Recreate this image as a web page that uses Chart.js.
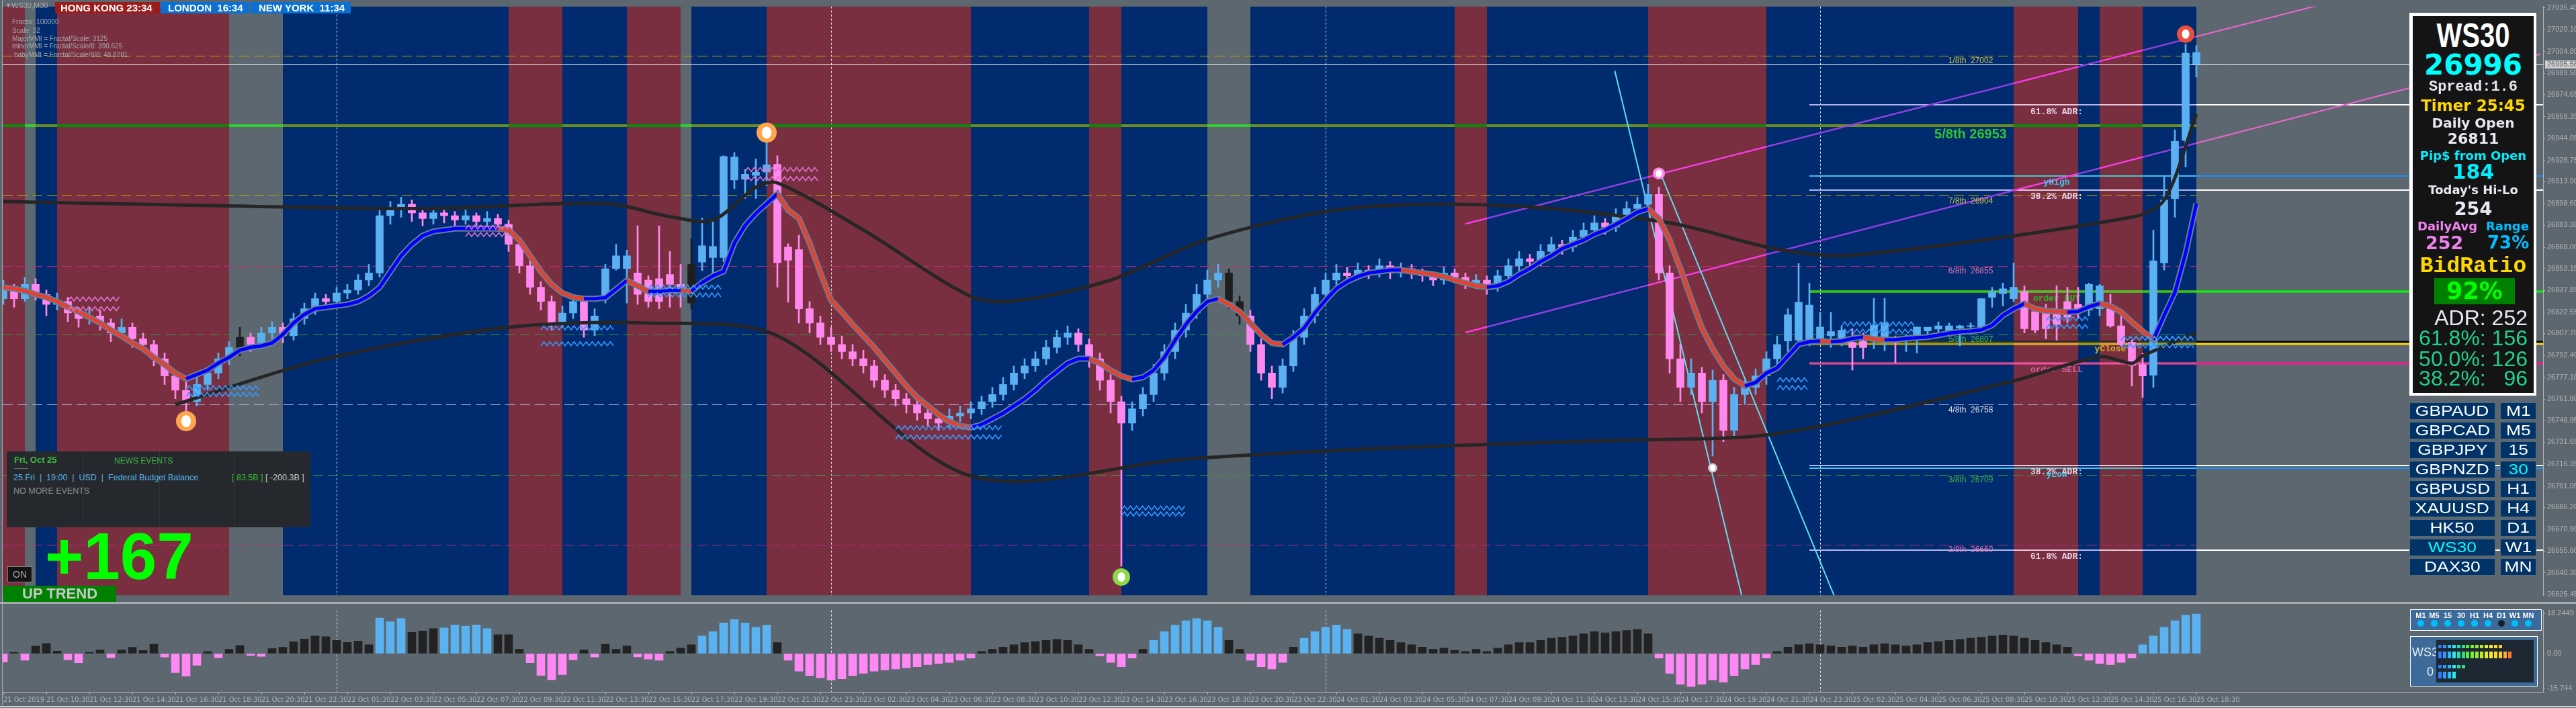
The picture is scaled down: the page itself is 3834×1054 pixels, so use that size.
<!DOCTYPE html>
<html>
<head>
<meta charset="utf-8">
<title>WS30,M30</title>
<script src="https://cdn.jsdelivr.net/npm/chart.js@4.4.1/dist/chart.umd.min.js"></script>
<style>
*{box-sizing:border-box}
html,body{margin:0;padding:0;width:3834px;height:1054px;overflow:hidden;background:#5c6770;font-family:"Liberation Sans",Arial,sans-serif}
canvas{position:absolute;left:0}
#main{top:0}
#sub{top:899px}
.t{position:absolute;white-space:pre;line-height:1}
.box{position:absolute}
.c{text-align:center}
.dj{font-family:"DejaVu Sans",sans-serif;font-weight:bold}
.mono{font-family:"Liberation Mono","DejaVu Sans Mono",monospace;font-weight:bold}
</style>
</head>
<body>
<canvas id="main" width="3834" height="896"></canvas>
<div class="box" style="left:0;top:896px;width:3834px;height:3px;background:#a4aab0"></div>
<canvas id="sub" width="3834" height="155"></canvas>
<div class="box" style="left:0;top:1051px;width:3834px;height:2px;background:#d0d4d8"></div>
<div class="box" style="left:3px;top:0;width:1px;height:1050px;background:#a4aab0"></div>

<!-- title and clocks -->
<div class="t" style="left:8px;top:4px;font-size:9px;color:#a8a8a8">&#9660;</div>
<div class="t" style="left:17px;top:3px;font-size:11px;color:#a8acb0">WS30,M30</div>
<div class="box" style="left:82px;top:3px;width:156px;height:17px;background:#9c1c1c"></div>
<div class="t" style="left:90px;top:4px;font-weight:bold;font-size:15px;color:#fff">HONG KONG 23:34</div>
<div class="box" style="left:239px;top:3px;width:132px;height:17px;background:#0b70d4"></div>
<div class="t" style="left:250px;top:4px;font-weight:bold;font-size:15px;color:#fff">LONDON  16:34</div>
<div class="box" style="left:373px;top:3px;width:149px;height:17px;background:#0b70d4"></div>
<div class="t" style="left:385px;top:4px;font-weight:bold;font-size:15px;color:#fff">NEW YORK  11:34</div>
<div class="t" style="left:18px;top:28px;font-size:10px;color:#a4a8ac">Fractal: 100000</div>
<div class="t" style="left:18px;top:41px;font-size:10px;color:#a4a8ac">Scale: 32</div>
<div class="t" style="left:18px;top:53px;font-size:10px;color:#a4a8ac">MajorMMI = Fractal/Scale: 3125</div>
<div class="t" style="left:18px;top:64px;font-size:10px;color:#a4a8ac">minorMMI = Fractal/Scale/8: 390.625</div>
<div class="t" style="left:21px;top:77px;font-size:10px;color:#a4a8ac">babyMMI = Fractal/Scale/8/8: 48.8281</div>

<!-- info panel -->
<div class="box" style="left:3586px;top:19px;width:189px;height:570px;background:#ffffff"></div>
<div class="box" style="left:3591px;top:24px;width:180px;height:561px;background:#141414"></div>
<div class="t c" style="left:3591px;width:180px;top:28px;font-weight:bold;font-size:50px;color:#fff"><span style="display:inline-block;transform:scaleX(0.8)">WS30</span></div>
<div class="t c dj" style="left:3591px;width:180px;top:76px;font-size:42px;color:#00ffff">26996</div>
<div class="t c mono" style="left:3591px;width:180px;top:119px;font-size:22px;color:#e8e8f2">Spread:1.6</div>
<div class="t c dj" style="left:3591px;width:180px;top:146px;font-size:23px;color:#ffd700">Timer 25:45</div>
<div class="t c dj" style="left:3591px;width:180px;top:173px;font-size:20px;color:#e8e8f2">Daily Open</div>
<div class="t c dj" style="left:3591px;width:180px;top:196px;font-size:22px;color:#e8e8f2">26811</div>
<div class="t c dj" style="left:3591px;width:180px;top:223px;font-size:18px;color:#00eeff">Pip$ from Open</div>
<div class="t c dj" style="left:3591px;width:180px;top:241px;font-size:30px;color:#00eeff">184</div>
<div class="t c dj" style="left:3591px;width:180px;top:274px;font-size:18px;color:#e8e8f2">Today's Hi-Lo</div>
<div class="t c dj" style="left:3591px;width:180px;top:297px;font-size:27px;color:#e8e8f2">254</div>
<div class="t dj" style="left:3598px;top:328px;font-size:18px;color:#ee82ee">DailyAvg</div>
<div class="t dj" style="left:3700px;top:328px;font-size:18px;color:#00bfff">Range</div>
<div class="t dj" style="left:3610px;top:348px;font-size:27px;color:#ee82ee">252</div>
<div class="t dj" style="left:3702px;top:348px;font-size:26px;color:#00bfff">73%</div>
<div class="t c mono" style="left:3591px;width:180px;top:380px;font-size:33px;color:#ffd700">BidRatio</div>
<div class="box" style="left:3623px;top:414px;width:120px;height:39px;background:#008000"></div>
<div class="t c dj" style="left:3623px;width:120px;top:416px;font-size:35px;color:#00ff00">92%</div>
<div class="t" style="left:3591px;width:171px;text-align:right;top:457px;font-size:32px;color:#e8e8f2">ADR: 252</div>
<div class="t" style="left:3591px;width:171px;text-align:right;top:487px;font-size:32px;color:#22d08c">61.8%: 156</div>
<div class="t" style="left:3591px;width:171px;text-align:right;top:518px;font-size:32px;color:#22d08c">50.0%: 126</div>
<div class="t" style="left:3591px;width:171px;text-align:right;top:547px;font-size:32px;color:#22d08c">38.2%:   96</div>
<div id="btns"></div>

<!-- news / trend -->
<div class="box" style="left:10px;top:672px;width:452px;height:113px;background:#25292e"></div>
<div class="box" style="left:123px;top:672px;width:1px;height:113px;background:#33343a"></div>
<div class="box" style="left:237px;top:672px;width:1px;height:113px;background:#33343a"></div>
<div class="box" style="left:349px;top:672px;width:1px;height:113px;background:#33343a"></div>
<div class="t" style="left:21px;top:678px;font-weight:bold;font-size:13px;color:#3cb83c">Fri, Oct 25</div>
<div class="t" style="left:21px;top:693px;font-size:9px;color:#a0a0a0">-------</div>
<div class="t" style="left:170px;top:680px;font-size:12px;color:#3cb043">NEWS EVENTS</div>
<div class="t" style="left:20px;top:705px;font-size:12.5px;color:#5ab4e6">25.Fri  |  19:00  |  USD  |  Federal Budget Balance</div>
<div class="t" style="left:345px;top:705px;font-size:12.5px;color:#33b833">[ 83.5B ]</div>
<div class="t" style="left:395px;top:705px;font-size:12.5px;color:#c8c8c8">[ -200.3B ]</div>
<div class="t" style="left:20px;top:725px;font-size:12.5px;color:#8c8c8c">NO MORE EVENTS</div>
<div class="t" style="left:67px;top:779px;font-weight:bold;font-size:98px;color:#00ff00">+167</div>
<div class="box" style="left:11px;top:843px;width:37px;height:24px;background:#141414;border:1px solid #808080"></div>
<div class="t c" style="left:11px;width:37px;top:848px;font-size:14px;color:#a8a8a8">ON</div>
<div class="box" style="left:5px;top:872px;width:168px;height:24px;background:#008000"></div>
<div class="t" style="left:33px;top:873px;font-weight:bold;font-size:22px;color:#c8c8c8">UP TREND</div>

<!-- sub window panels -->
<div class="box" style="left:3587px;top:907px;width:196px;height:32px;background:#3d6b99;border:1px solid #ffffff"></div>
<div id="tf"></div>
<div class="box" style="left:3587px;top:947px;width:190px;height:75px;background:#3d6b99;border:1px solid #ffffff"></div>
<div class="t" style="left:3590px;top:962px;font-size:18px;color:#e8eef4">WS3</div>
<div class="t" style="left:3612px;top:991px;font-size:18px;color:#e8eef4">0</div>
<div class="box" style="left:3626px;top:953px;width:145px;height:63px;background:#1e2833"></div>
<div id="meter"></div>

<script>
// ================= DATA =================
const tickLabels = ['21 Oct 2019','21 Oct 10:30','21 Oct 12:30','21 Oct 14:30','21 Oct 16:30','21 Oct 18:30','21 Oct 20:30','21 Oct 22:30',
 '22 Oct 01:30','22 Oct 03:30','22 Oct 05:30','22 Oct 07:30','22 Oct 09:30','22 Oct 11:30','22 Oct 13:30','22 Oct 15:30','22 Oct 17:30','22 Oct 19:30','22 Oct 21:30','22 Oct 23:30',
 '23 Oct 02:30','23 Oct 04:30','23 Oct 06:30','23 Oct 08:30','23 Oct 10:30','23 Oct 12:30','23 Oct 14:30','23 Oct 16:30','23 Oct 18:30','23 Oct 20:30','23 Oct 22:30',
 '24 Oct 01:30','24 Oct 03:30','24 Oct 05:30','24 Oct 07:30','24 Oct 09:30','24 Oct 11:30','24 Oct 13:30','24 Oct 15:30','24 Oct 17:30','24 Oct 19:30','24 Oct 21:30','24 Oct 23:30',
 '25 Oct 02:30','25 Oct 04:30','25 Oct 06:30','25 Oct 08:30','25 Oct 10:30','25 Oct 12:30','25 Oct 14:30','25 Oct 16:30','25 Oct 18:30'];
const priceTicks = [27035.40,27020.10,27004.80,26989.50,26974.65,26959.35,26944.05,26928.75,26913.90,26898.60,26883.30,26868.00,26853.15,26837.85,
 26822.55,26807.70,26792.40,26777.10,26761.80,26746.95,26731.65,26716.35,26701.05,26686.20,26670.90,26655.60,26640.30,26625.45];
const subTicks = [18.2449, 0, -15.744];
const subTickLabels = ['18.2449','0.00','-15.744'];
const currentPrice = 26995.56;

// M30 candles, bar 0 = 21 Oct 08:30 ... bar 204 = 25 Oct 18:30
const openP = [26832,26838,26832,26842,26835,26828,26830,26822,26818,26820,
 26815,26808,26812,26804,26800,26790,26778,26768,26760,26772,
 26780,26790,26798,26805,26800,26808,26812,26806,26818,26825,
 26832,26830,26836,26838,26845,26850,26890,26895,26898,26892,
 26888,26892,26890,26887,26890,26886,26888,26884,26870,26855,
 26840,26830,26815,26822,26830,26810,
 26832,26853,26853,26850,26845,26846,26849,26842,26829,26857.6,26860.8,26860.8,26915,26915.5,26918.2,26920.5,26926,26868.1,26866.3,
 26825,26815,26805,26800,26795, 26790,26785,26775,26768,26762,26758,26752,26748,26745,26750,
 26752,26755,26760,26765,26772,26780,26785,26790,26798,26805, 26808,26800,26790,26775,26760,26745,26755,26765,26780,26795,
 26810,26822,26835,26845,26850,26830,26820,26800,26780,26770, 26785,26805,26820,26835,26845,26850,26848,26852,26850,26855,
 26850,26853,26850,26848,26845,26850,26847,26843,26845,26840, 26848,26855,26860,26858,26865,26870,26868,26875,26880,26885,
 26882,26890,26895,26898,26905,26850,26790,26770,26780,26760, 26775,26740,26765,26770,26778,26790,
 26802.4,26803,26803,26802.9,26806,26801.5,26801.5,26802.4,26803.7,26802,26804.7,26802.4,26806.6,26809.5,26810.7,26809.5,26811.5,26812.5,26812,
 26833,26835.5,26832,26837,26823,26822,26822,26830,26828,26824,26825,26825,26813,26801.5,26786,26778.5,26857,26902,26942.6,27004];
const highP = [26845,26842,26847,26846,26838,26836,26833,26826,26826,26824,
 26818,26818,26815,26808,26803,26794,26782,26775,26777,26784,
 26794,26802,26812,26808,26812,26816,26815,26822,26829,26836,
 26835,26840,26842,26849,26856,26894,26900,26903,26901,26895,
 26896,26895,26893,26894,26892,26893,26891,26887,26874,26859,
 26844,26834,26827,26835,26833,26825,
 26856,26870,26866,26883,26848,26883,26865,26856,26874,26888.4,26886.5,26932,26934.3,26922.3,26929.7,26947.6,26932,26870.4,26876.4,
 26830,26820,26812,26806,26800, 26796,26789,26779,26772,26766,26762,26756,26752,26755,26757,
 26760,26764,26770,26777,26785,26790,26795,26803,26810,26813, 26811,26804,26794,26779,26764,26760,26770,26786,26800,26815,
 26828,26842,26852,26856,26853,26834,26824,26804,26785,26790, 26810,26825,26840,26850,26856,26854,26857,26855,26860,26858,
 26857,26856,26853,26851,26854,26853,26850,26849,26848,26852, 26860,26865,26863,26870,26875,26873,26880,26885,26890,26888,
 26895,26900,26903,26912,26910,26855,26800,26790,26784,26782, 26779,26770,26775,26783,26795,26806,
 26825,26856.6,26843,26822.5,26822.5,26813,26811,26808,26832.3,26832.3,26806,26807,26812.2,26812,26815.8,26815,26813.5,26815,26832,
 26840,26843,26857,26841,26826,26828,26841,26840,26840,26843,26842,26835,26822,26803,26794,26880,26917,26950,27010,27009];
const lowP = [26828,26826,26830,26831,26820,26824,26816,26812,26814,26810,
 26802,26805,26798,26795,26785,26772,26762,26753,26757,26768,
 26776,26786,26792,26795,26797,26803,26801,26803,26814,26821,
 26825,26827,26832,26835,26841,26847,26884,26889,26886,26883,
 26884,26885,26882,26884,26881,26883,26879,26865,26850,26835,
 26824,26810,26812,26818,26805,26806,
 26829,26852,26829,26828,26826,26825,26826,26826,26825,26851.6,26848.8,26858,26909,26902.1,26902.1,26910.9,26840.1,26829.5,26815,
 26808,26800,26795,26790,26785, 26780,26770,26763,26757,26752,26747,26743,26740,26742,26746,
 26748,26751,26756,26761,26768,26776,26781,26786,26794,26800, 26795,26784,26768,26752,26645,26740,26750,26760,26775,26790,
 26805,26818,26830,26840,26825,26814,26795,26775,26762,26766, 26781,26800,26815,26830,26840,26843,26845,26846,26847,26846,
 26847,26846,26844,26841,26842,26843,26839,26840,26835,26837, 26845,26851,26853,26855,26861,26863,26865,26871,26876,26877,
 26879,26886,26891,26894,26845,26780,26760,26765,26752,26722, 26732,26736,26758,26765,26772,26785,
 26795,26799,26799,26801.5,26798,26799,26782,26790,26797,26795.6,26787,26795,26794,26806.7,26807,26806,26799,26811,26808,
 26826,26827,26830,26808,26808,26804,26803,26815,26818,26820,26820,26812,26799,26771,26763,26770,26852,26889,26924,26987];
const closeP = [26838,26832,26842,26835,26828,26830,26822,26818,26820,26815,
 26808,26812,26804,26800,26790,26778,26768,26760,26772,26780,
 26790,26798,26805,26800,26808,26812,26806,26818,26825,26832,
 26830,26836,26838,26845,26850,26890,26895,26898,26892,26888,
 26892,26890,26887,26890,26886,26888,26884,26870,26855,26840,
 26830,26815,26822,26830,26810,26820,
 26853,26862,26862,26835,26830,26830,26842,26838,26856,26869,26868.6,26931.5,26931,26919,26920.5,26925.6,26857.1,26858.9,26825,
 26815,26805,26800,26795,26790, 26785,26775,26768,26762,26758,26752,26748,26745,26750,26752,
 26755,26760,26765,26772,26780,26785,26790,26798,26805,26808, 26800,26790,26775,26760,26745,26755,26765,26780,26795,26810,
 26822,26835,26845,26850,26830,26820,26800,26780,26770,26785, 26805,26820,26835,26845,26850,26848,26852,26850,26855,26850,
 26853,26850,26848,26845,26850,26847,26843,26845,26840,26848, 26855,26860,26858,26865,26870,26868,26875,26880,26885,26882,
 26890,26895,26898,26905,26850,26790,26770,26780,26760,26775, 26740,26765,26770,26778,26790,26800,
 26820.8,26829.5,26827.6,26812.2,26809,26810,26797.8,26797.8,26813.5,26815,26801.5,26802.9,26812.2,26812.1,26813,26813,26813,26813.2,26832,
 26837,26839,26840,26811,26810,26811,26814,26819,26824,26842,26841,26813,26800,26785.4,26778,26858.5,26901,26942,27003.7,26996];
// candle colour state overrides (k = neutral zone black candle, u = bull colour)
const candleOverride = {22:'k', 64:'k', 114:'k', 115:'k', 204:'u'};

const trendMA = [26840,26839,26837.5,26835,26833,26830,26826,26823,26819,26815,26810,26806,26801,26797,26791,26786,26780,26776,26779,26782,
 26787,26791,26796,26798,26799,26801,26807,26815,26821,26825,26826,26827,26828,26830,26834,26840,26851,26862,26870,26876,
 26879,26880,26881,26881,26881,26881,26881,26880,26873,26862,26851,26842,26836,26833,26832,26832,
 26832.7,26838.7,26844.7,26841,26837,26837,26837.8,26837.8,26837.3,26843.3,26847.9,26851.2,26870.9,26883.3,26891.6,26898.5,26905.3,26893.9,26888.3,26870.9,26850.2,26830.9,
 26822.8,26814,26806,26798,26789,26780,26771,26763,26757,26751,26746,26743,26742,
 26744,26748,26752,26757,26762,26768,26775,26781,26787,26790,26790,26787,26782,26778,26775.6,26777,
 26782,26791,26803,26814,26823,26830,26832,26828,26823,26815,26807,26801,26800,
 26805,26811.6,26822,26831,26839,26844,26847.5,26850,26851,26852,26852,26851,26850,26849,26847.5,26845,26843,26841,26840,
 26841,26844,26849,26853,26858,26862,26867,26870,26873,26877,26880,26884,26888,26892.5,26895,
 26888,26873,26853,26832,26811.6,26797,26785,26776,26771,26773.4,26780,
 26783.6,26791.8,26800.1,26801.9,26802.4,26801.9,26802.4,26804.2,26805.2,26803.8,26803.3,26803.3,26804.2,26804.7,26805.2,26806.5,26807.9,26808.8,26809.3,26810.2,
 26813.4,26820.3,26824.9,26828.6,26824.9,26823.5,26823.1,26822.6,26823.1,26826.3,26828.6,26826.8,26822.6,26815.7,26809.3,26803.3,26820.3,26836.4,26863.9,26898.5];
const blackMA1 = [[0,26900],[20,26897],[40,26895],[56,26898.6],[62,26889.4],[66,26887],[70,26910],[72,26913],[80,26880],[90,26833.6],[94,26830.4],
 [103,26845],[112,26873.5],[125,26895],[140,26897],[155,26885],[165,26866.6],[172,26862.4],[198,26889],[201,26901],[204,26961]];
const blackMA2 = [[16,26758],[30,26790],[47,26812],[60,26815],[72,26806],[90,26708],[110,26720],[130,26728],[150,26733],[165,26737.7],
 [187,26774.5],[195,26791.5],[198,26786.8],[199,26792],[204,26808]];

const histVals = [-3.9,0.6,-3.0,3.4,4.6,1.1,-2.8,-4.2,0.6,1.7,-1.9,1.7,2.9,1.4,4.3,-1.6,-8.7,-10.2,-5.3,0.9,
 -1.9,2.0,3.7,-0.8,-1.3,2.3,2.9,5.4,6.6,8.0,7.7,6.0,5.1,5.7,4.0,16.2,14.5,16.0,9.7,10.3,
 11.4,11.7,13.1,12.5,13.1,11.4,8.6,8.6,2.0,-4.2,-9.9,-11.9,-9.6,-2.8,1.7,-1.6,4.3,
 2.0,3.5,-1.5,-2.5,-3.0,1.0,2.5,4.0, 8.0,10.0,14.0,15.5,14.0,12.0,13.0,
 5.0,-3.0,-8.0,-10.0,-11.0,-12.0,-11.5,-10.0,-9.0,-8.0,-7.5,-7.0,-6.5,-6.0,-5.0,-4.5,-4.0,-3.0,-2.0,
 1.0,2.0,3.0,4.0,5.0,5.5,6.0,6.5,6.0,4.0,2.0,-1.0,-4.0,-6.0,
 -2.0,2.0,6.0,10.0,13.0,15.0,16.0,15.0,12.0, 6.0,2.0,-3.0,-6.0,-7.0,-4.0,
 3.0,7.0,10.0,12.0,13.0,11.0,9.0,8.0,7.0,6.0,5.0,4.0,
 3.0,2.0,2.5,1.5,1.0,2.0,1.0,2.5,4.0,5.0,5.0,6.0,7.0,7.5,8.0,9.0,10.0,9.5,10.0,10.5,11.0,
 9.0,-2.0,-9.0,-14.0,-15.0,-14.0,-12.0,-13.0,-10.0, -7.0,-5.0,-2.0,1.0,3.0,4.0,4.5,4.0,3.5,
 3.0,3.5,3.0,4.0,4.5,4.0,3.5,4.0,5.0,5.5,6.0,6.5,7.0,7.5,8.0,8.5,8.0,7.0,6.0,5.0,4.0,3.0,
 -1.0,-3.0,-4.5,-5.0,-4.0,-2.0, 4.0,8.0,12.0,15.0,17.5,18.0];
const histState = ['pkpkkkppkk','pkkkkppppk','pkkppkkkkk','kkkkkbbbkk','kbbbbbkkkp','ppppkpk',
 'kkpppkkk','bbbbbbb','k','pppppppppppppppppp','kkkkkkkkkkk','pppp','k','bbbbbbb','kk','pppp','k','bbbbb','kkkkkk',
 'kkkkkkkkkkkkkkkkkkkkk','k','ppppppppppp','kkkkkkkkkkkkkkkkkkkkkkkkkkkk','pppppp','bbbbbb'].join('');

// background trend zones: [fromBar, toBar, state]
const bandRuns = [[-1,2,'m'],[2,3,'g'],[3,5,'b'],[5,21,'m'],[21,26,'g'],[26,47,'b'],[47,52,'m'],[52,58,'b'],[58,63,'m'],[63,64,'g'],
 [64,71,'b'],[71,90,'m'],[90,101,'b'],[101,104,'m'],[104,112,'b'],[112,116,'g'],[116,135,'b'],[135,138,'m'],[138,153,'b'],[153,164,'m'],
 [164,187,'b'],[187,193,'m'],[193,195,'b'],[195,199,'m'],[199,204,'b']];
const dayStarts = [31,77,123,169];
const lastBar = 204;

// Murrey math levels: [price, label, kind]
const murreyLevels = [[27002,'1/8th  27002','yel'],[26904,'7/8th  26904','yel'],[26855,'6/8th  26855','pnk'],[26807,'5/8th  26807','grn'],
 [26758,'4/8th  26758','wht'],[26709,'3/8th  26709','grn'],[26660,'2/8th  26660','pnk']];
const majorLevel = [26953,'5/8th 26953'];
// daily levels starting at bar 168: [price, label, kind, labelBar]
const dayLevels = [[26967.4,'61.8% ADR:','lav',191],[26917.7,'yHigh','cyan',191],[26908.1,'38.2% ADR:','lav',191],[26836.9,'order BUY','buy',191],
 [26801.9,'','blk',196],[26800.6,'yClose','gold',196],[26786.7,'order SELL','sell',191],[26715.5,'38.2% ADR:','lav',191],
 [26713.7,'yLow','cyan',191],[26656.3,'61.8% ADR:','lav',191]];
const dayLevelStart = 168;
// channel: [bar0, price0, bar1, price1]
const channelLines = [[136,26884.3,236,27076.9],[136,26808.4,236,27003.0]];
const fanLines = [[149.9,26991.3,161.7,26624.5],[154.3,26916.8,170.3,26624.5]];
// fractal marks: [bar, price, kind]
const fractalMarks = [[17,26746.4,'o'],[71,26948.1,'o'],[104,26637.4,'g'],[154,26919.6,'w'],[159,26713.7,'s'],[203,27017,'r']];
// zigzag zones: [bar0, bar1, price, kind]
const zigzags = [[6,11,26831.8,'p'],[6,11,26825,'p'],[17,24,26769.8,'b'],[17,24,26765,'b'],[43,47,26882,'p'],[43,47,26876.8,'p'],
 [50,57,26811.6,'b'],[50,57,26800.5,'b'],[60,67,26840.1,'b'],[60,67,26834.6,'b'],[69,76,26922.3,'p'],[69,76,26915.9,'p'],
 [83,93,26741.8,'b'],[83,93,26735.3,'b'],[104,110,26685.7,'b'],[104,110,26681.5,'b'],[165,168,26775.3,'b'],[165,168,26769.8,'b'],
 [171,178,26814.4,'b'],[171,178,26809.3,'b'],[190,194,26818,'b'],[190,194,26812.5,'b'],[197,204,26804.3,'b'],[197,204,26799,'b']];

const symbols = ['GBPAUD','GBPCAD','GBPJPY','GBPNZD','GBPUSD','XAUUSD','HK50','WS30','DAX30'];
const periods = ['M1','M5','15','30','H1','H4','D1','W1','MN'];
const activeSymbol = 'WS30', activePeriod = '30';
const tfState = [1,1,1,1,1,1,0,1,1];
const meterRows = [14,16,6,4];

// ================= STYLE =================
const BAND_COL = {m:'#792f40', b:'#002b6e', g:'#5c6770'};
const BG = '#5c6770';
const MUR = {yel:{c:'#c0a800',l:'#c8c040'}, pnk:{c:'#c0287c',l:'#e070b0'}, grn:{c:'#3a9a3a',l:'#44b444'}, wht:{c:'#a8a8d8',l:'#e0e0e8'}};
const LVL = {
 lav:{cols:{g:'#ffffff',b:'#b4b4f0',m:'#e6c8e0'},w:2,l:'#e6d2e6'},
 cyan:{cols:{g:'#1e90ff',b:'#40c0f0',m:'#40c8c8'},w:2,l:'#3cc8f0'},
 buy:{cols:{g:'#00ff00',b:'#44c010',m:'#66b830'},w:3,l:'#22b822'},
 blk:{cols:{g:'#000000',b:'#1e3c34',m:'#3a2a2e'},w:3,l:'#000'},
 gold:{cols:{g:'#ffd700',b:'#a89410',m:'#e0a030'},w:3,l:'#d8b020'},
 sell:{cols:{g:'#ff1493',b:'#c8508c',m:'#e05898'},w:3,l:'#d060a0'}
};
const MAJOR_COLS = {g:'#32cd32',b:'#6b8e23',m:'#0a8a0a'};
const CHAN_COLS = {g:'#ee66cc',b:'#8a3ae6',m:'#ff33ee'};
const MARK = {o:{ring:'#ffa64d',r:15,ir:9}, g:{ring:'#8ed84a',r:13,ir:7}, w:{ring:'#ff88ee',r:9,ir:6}, s:{ring:'#c8c8c8',r:7,ir:5}, r:{ring:'#e8503a',r:13,ir:7}};
const ZZ = {b:'#3399ff', p:'#e070d0'};
const CANDLE = {up:'#5ab0f0', dn:'#ff88ee', k:'#1e1e1e', u:'#5ab0f0'};
const HIST = {p:'#ff88f5', k:'#222222', b:'#5ab2f0'};
const MURREY_LABEL_BAR = 183;
const AXIS_FONT = {family:'"Liberation Sans", Arial, sans-serif', size:11};

// ================= HELPERS =================
const bars = closeP.map((_, i) => i);
function xp(ch, k){ return ch.scales.x.getPixelForValue(k); }
function yp(ch, p){ return ch.scales.y.getPixelForValue(p); }
function bandedStroke(ch, build, cols, lw, dash){
  const ctx = ch.ctx, a = ch.chartArea;
  const strokeIn = (x0, x1, col) => {
    ctx.save(); ctx.beginPath(); ctx.rect(x0, a.top, x1 - x0, a.bottom - a.top); ctx.clip();
    ctx.strokeStyle = col; ctx.lineWidth = lw; ctx.setLineDash(dash || []);
    ctx.beginPath(); build(); ctx.stroke(); ctx.restore();
  };
  strokeIn(a.left, a.right, cols.g);
  bandRuns.forEach(([s, e, st]) => { if (st === 'g') return; const x0 = Math.max(a.left, xp(ch, s)), x1 = xp(ch, e); strokeIn(x0, x1, cols[st]); });
}
function dayLines(ch){
  const ctx = ch.ctx, a = ch.chartArea;
  ctx.save(); ctx.strokeStyle = '#e4e4e4'; ctx.lineWidth = 1; ctx.setLineDash([3,3]);
  dayStarts.forEach(k => { const x = Math.round(xp(ch, k)) + 0.5; ctx.beginPath(); ctx.moveTo(x, a.top); ctx.lineTo(x, a.bottom); ctx.stroke(); });
  ctx.restore();
}

const mainPlugin = {
  id: 'mt4main',
  beforeDraw(ch){ const c = ch.ctx; c.save(); c.fillStyle = BG; c.fillRect(0, 0, ch.width, ch.height); c.restore(); },
  beforeDatasetsDraw(ch){
    const ctx = ch.ctx, a = ch.chartArea;
    ctx.save(); ctx.beginPath(); ctx.rect(a.left, a.top, a.right - a.left, a.bottom - a.top); ctx.clip();
    bandRuns.forEach(([s, e, st]) => { const x0 = s < 0 ? a.left : xp(ch, s), x1 = xp(ch, e); ctx.fillStyle = BAND_COL[st]; ctx.fillRect(x0, a.top, x1 - x0, a.bottom - a.top); });
    dayLines(ch);
    const xEnd = xp(ch, lastBar);
    murreyLevels.forEach(([p, lab, kind]) => {
      const y = Math.round(yp(ch, p)) + 0.5;
      ctx.save(); ctx.strokeStyle = MUR[kind].c; ctx.lineWidth = 1; ctx.setLineDash([15,7]);
      ctx.beginPath(); ctx.moveTo(a.left, y); ctx.lineTo(xEnd, y); ctx.stroke(); ctx.restore();
    });
    const ym = yp(ch, majorLevel[0]);
    bandedStroke(ch, () => { ctx.moveTo(a.left, ym); ctx.lineTo(xEnd, ym); }, MAJOR_COLS, 4);
    const xs = xp(ch, dayLevelStart);
    dayLevels.forEach(([p, lab, kind]) => { const y = Math.round(yp(ch, p)); bandedStroke(ch, () => { ctx.moveTo(xs, y); ctx.lineTo(a.right, y); }, LVL[kind].cols, LVL[kind].w); });
    const yc = Math.round(yp(ch, currentPrice)) + 0.5;
    ctx.strokeStyle = '#ffffff'; ctx.lineWidth = 1; ctx.beginPath(); ctx.moveTo(a.left, yc); ctx.lineTo(a.right, yc); ctx.stroke();
    channelLines.forEach(([k0, p0, k1, p1]) => bandedStroke(ch, () => { ctx.moveTo(xp(ch, k0), yp(ch, p0)); ctx.lineTo(xp(ch, k1), yp(ch, p1)); }, CHAN_COLS, 2));
    ctx.strokeStyle = '#5ce0f0'; ctx.lineWidth = 2;
    fanLines.forEach(([k0, p0, k1, p1]) => { ctx.beginPath(); ctx.moveTo(xp(ch, k0), yp(ch, p0)); ctx.lineTo(xp(ch, k1), yp(ch, p1)); ctx.stroke(); });
    ctx.textAlign = 'center'; ctx.textBaseline = 'middle';
    const xl = xp(ch, MURREY_LABEL_BAR);
    ctx.font = '12px "Liberation Sans", Arial, sans-serif';
    murreyLevels.forEach(([p, lab, kind]) => { ctx.fillStyle = MUR[kind].l; ctx.fillText(lab, xl, yp(ch, p) + 8); });
    ctx.font = 'bold 20px "Liberation Sans", Arial, sans-serif'; ctx.fillStyle = '#30c430';
    ctx.fillText(majorLevel[1], xl, ym + 13);
    ctx.font = 'bold 13px "Liberation Mono", "DejaVu Sans Mono", monospace';
    dayLevels.forEach(([p, lab, kind, kb]) => { if (!lab) return; ctx.fillStyle = LVL[kind].l; ctx.fillText(lab, xp(ch, kb), yp(ch, p) + (kind === 'gold' ? 8 : 10)); });
    ctx.restore();
  },
  afterDatasetsDraw(ch){
    const ctx = ch.ctx, a = ch.chartArea;
    ctx.save(); ctx.beginPath(); ctx.rect(a.left, a.top, a.right - a.left, a.bottom - a.top); ctx.clip();
    ctx.lineWidth = 1.6; ctx.setLineDash([]);
    zigzags.forEach(([k0, k1, p, kind]) => {
      const x0 = xp(ch, k0), x1 = xp(ch, k1), y = yp(ch, p);
      ctx.strokeStyle = ZZ[kind]; ctx.beginPath(); ctx.moveTo(x0, y + 3); let up = true;
      for (let x = x0 + 4.5; x <= x1; x += 4.5) { ctx.lineTo(x, y + (up ? -3 : 3)); up = !up; }
      ctx.stroke();
    });
    fractalMarks.forEach(([k, p, kind]) => {
      const m = MARK[kind], x = xp(ch, k), y = yp(ch, p);
      ctx.fillStyle = m.ring; ctx.beginPath(); ctx.arc(x, y, m.r, 0, Math.PI * 2); ctx.fill();
      ctx.fillStyle = '#ffffff'; ctx.beginPath(); ctx.ellipse(x, y, m.ir * 0.8, m.ir, 0, 0, Math.PI * 2); ctx.fill();
    });
    ctx.restore();
  },
  afterDraw(ch){
    const ctx = ch.ctx, a = ch.chartArea, y = yp(ch, currentPrice);
    ctx.save(); ctx.fillStyle = '#cfcfcf'; ctx.fillRect(a.right + 3, Math.round(y) - 6, 46, 12);
    ctx.fillStyle = '#5c6770'; ctx.font = '11px "Liberation Sans", Arial, sans-serif'; ctx.textBaseline = 'middle'; ctx.textAlign = 'left';
    ctx.fillText(currentPrice.toFixed(2), a.right + 6, Math.round(y)); ctx.restore();
  }
};

const subPlugin = {
  id: 'mt4sub',
  beforeDraw(ch){ const c = ch.ctx; c.save(); c.fillStyle = BG; c.fillRect(0, 0, ch.width, ch.height); c.restore(); },
  beforeDatasetsDraw(ch){ dayLines(ch); }
};

const candleCol = bars.map(i => candleOverride[i] ? CANDLE[candleOverride[i]] : (closeP[i] >= openP[i] ? CANDLE.up : CANDLE.dn));
const xScaleBase = {type:'linear', min:-0.0625, max:236.25, offset:false};

new Chart(document.getElementById('main'), {
  type: 'bar',
  data: { datasets: [
    {type:'line', data: trendMA.map((v, i) => ({x:i, y:v})), borderColor:'#0000ff', borderWidth:5, pointRadius:0, tension:0, order:1,
      segment:{ borderColor: c => c.p1.parsed.y < c.p0.parsed.y ? '#e8402c' : '#0000ff' }},
    {type:'line', data: trendMA.map((v, i) => ({x:i, y:v})), borderColor:'#687c94', borderWidth:9, pointRadius:0, tension:0, order:2},
    {type:'line', data: blackMA1.map(([x, y]) => ({x, y})), borderColor:'#262626', borderWidth:5, pointRadius:0, tension:0.3, order:3},
    {type:'line', data: blackMA2.map(([x, y]) => ({x, y})), borderColor:'#262626', borderWidth:5, pointRadius:0, tension:0.3, order:3},
    {type:'bar', data: bars.map(i => ({x:i, y:[openP[i], closeP[i]]})), backgroundColor: candleCol, barThickness:11, minBarLength:1, grouped:false, order:4},
    {type:'bar', data: bars.map(i => ({x:i, y:[lowP[i], highP[i]]})), backgroundColor: candleCol, barThickness:2, grouped:false, order:5}
  ]},
  options: {
    responsive:false, animation:false, devicePixelRatio:1, events:[],
    layout:{padding:{left:4, right:0, top:0, bottom:0}},
    plugins:{legend:{display:false}, tooltip:{enabled:false}},
    scales:{
      x: Object.assign({display:false}, xScaleBase),
      y: {position:'right', min:26624.56, max:27036.32,
        afterFit(s){ s.width = 49; },
        afterBuildTicks(s){ s.ticks = priceTicks.map(v => ({value:v})); },
        ticks:{autoSkip:false, color:'#b4b4b4', font:AXIS_FONT, padding:3, callback: v => Number(v).toFixed(2)},
        grid:{drawOnChartArea:false, drawTicks:true, tickLength:3, color:'#b4b4b4'},
        border:{display:true, color:'#b4b4b4'}}
    }
  },
  plugins:[mainPlugin]
});

new Chart(document.getElementById('sub'), {
  type: 'bar',
  data: { datasets: [
    {data: histVals.map((v, i) => ({x:i, y:v})), backgroundColor: bars.map(i => HIST[histState[i]]), barThickness:12, grouped:false}
  ]},
  options: {
    responsive:false, animation:false, devicePixelRatio:1, events:[],
    layout:{padding:{left:4, right:0, top:1, bottom:0}},
    plugins:{legend:{display:false}, tooltip:{enabled:false}},
    scales:{
      x: Object.assign({
        afterFit(s){ s.height = 24; },
        afterBuildTicks(s){ s.ticks = tickLabels.map((_, i) => ({value:i * 4})); },
        ticks:{autoSkip:false, maxRotation:0, minRotation:0, align:'start', color:'#aab4be', padding:2,
          font:{family:'"Liberation Sans Narrow", "DejaVu Sans Condensed", "Liberation Sans", sans-serif', size:11},
          callback: v => tickLabels[Math.round(v / 4)]},
        grid:{display:true, drawOnChartArea:false, drawTicks:true, tickLength:4, color:'#b4b4b4', offset:false},
        border:{display:true, color:'#b4b4b4'}}, xScaleBase),
      y: {position:'right', min:-17.43, max:19.71,
        afterFit(s){ s.width = 49; },
        afterBuildTicks(s){ s.ticks = subTicks.map(v => ({value:v})); },
        ticks:{autoSkip:false, color:'#b4b4b4', font:AXIS_FONT, padding:3, callback: (v, i) => subTickLabels[i]},
        grid:{drawOnChartArea:false, drawTicks:true, tickLength:3, color:'#b4b4b4'},
        border:{display:true, color:'#b4b4b4'}}
    }
  },
  plugins:[subPlugin]
});

// ================= PANELS =================
(function(){
  const btns = document.getElementById('btns');
  let h = '';
  symbols.forEach((s, i) => {
    const top = 599 + i * 29, p = periods[i];
    h += `<div class="box" style="left:3586px;top:${top}px;width:128px;height:26px;background:#003366;border:1px solid #56687a"></div>`;
    h += `<div class="t c" style="left:3586px;width:128px;top:${top + 2}px;font-size:22px;color:${s === activeSymbol ? '#00ffff' : '#ffffff'}"><span style="display:inline-block;transform:scaleX(1.2)">${s}</span></div>`;
    h += `<div class="box" style="left:3721px;top:${top}px;width:54px;height:26px;background:#003366;border:1px solid #56687a"></div>`;
    h += `<div class="t c" style="left:3721px;width:54px;top:${top + 2}px;font-size:22px;color:${p === activePeriod ? '#00ffff' : '#ffffff'}"><span style="display:inline-block;transform:scaleX(1.2)">${p}</span></div>`;
  });
  btns.innerHTML = h;
  let t = '';
  periods.forEach((p, i) => {
    const cx = 3603 + i * 20;
    t += `<div class="t c" style="left:${cx - 12}px;width:24px;top:911px;font-weight:bold;font-size:11px;color:#ffffff">${p}</div>`;
    t += `<div class="box" style="left:${cx - 5}px;top:923px;width:10px;height:10px;border-radius:5px;background:${tfState[i] ? '#00bfff' : '#16202a'}"></div>`;
  });
  document.getElementById('tf').innerHTML = t;
  const grad = ['#2f7bff','#3399ff','#22bbff','#22eeee','#22ddbb','#33dd77','#55ee44','#77ee33','#99ee22','#bbee22','#ddee22','#ffee22','#ffdd22','#ffcc22','#ffaa33','#ff7733','#ff4422'];
  const rowY = [960, 970, 990, 1000], rowH = [5, 10, 5, 10];
  let m = '';
  meterRows.forEach((n, r) => { for (let i = 0; i < n; i++) m += `<div class="box" style="left:${3629 + i * 6.9}px;top:${rowY[r]}px;width:5px;height:${rowH[r]}px;background:${grad[i]}"></div>`; });
  document.getElementById('meter').innerHTML = m;
})();
</script>
</body>
</html>
